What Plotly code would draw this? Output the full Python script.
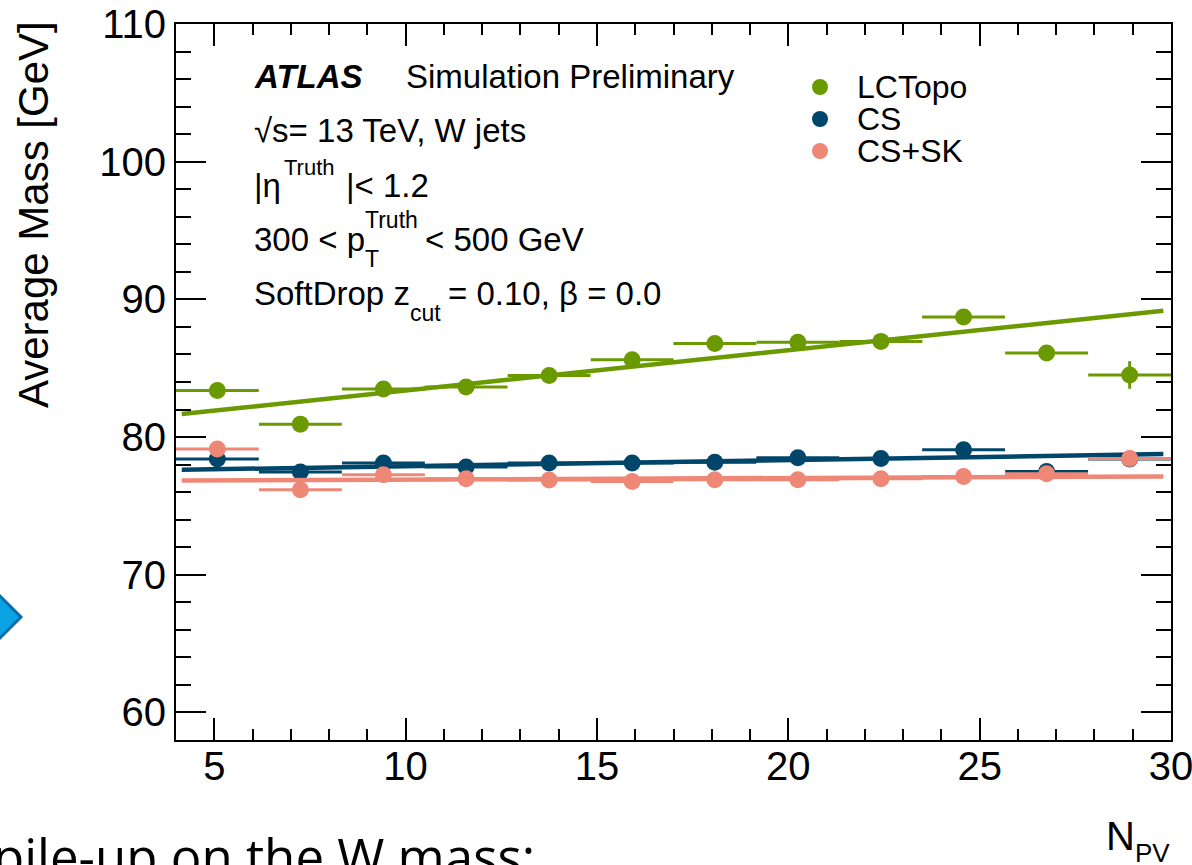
import plotly.graph_objects as go

# ---------------- data ----------------
npv_centers = [5.08, 7.25, 9.42, 11.58, 13.75, 15.92, 18.08, 20.25, 22.42, 24.58, 26.75, 28.92]
npv_halfwidth = [1.083, 1.083, 1.083, 1.083, 1.083, 1.083, 1.083, 1.083, 1.083, 1.083, 1.083, 1.083]

lctopo_mass = [83.39, 80.94, 83.49, 83.63, 84.48, 85.62, 86.80, 86.88, 86.95, 88.72, 86.10, 84.51]
lctopo_err = [0.25, 0.25, 0.2, 0.2, 0.2, 0.2, 0.2, 0.25, 0.25, 0.3, 0.4, 1.0]

cs_mass = [78.40, 77.46, 78.11, 77.82, 78.11, 78.11, 78.18, 78.50, 78.44, 79.08, 77.50, 78.40]
cs_err = [0.2, 0.2, 0.15, 0.15, 0.15, 0.15, 0.15, 0.15, 0.2, 0.2, 0.3, 0.4]

cssk_mass = [79.13, 76.17, 77.26, 76.97, 76.88, 76.77, 76.90, 76.90, 76.97, 77.14, 77.33, 78.44]
cssk_err = [0.2, 0.2, 0.15, 0.15, 0.15, 0.15, 0.15, 0.15, 0.2, 0.2, 0.3, 0.4]

# linear fits: (slope, intercept) and fit range
fit_range = [4.15, 29.8]
lctopo_fit = (0.2928, 80.455)
cs_fit = (0.0444, 77.44)
cssk_fit = (0.0113, 76.80)

series_names = ["LCTopo", "CS", "CS+SK"]
series_colors = ["#6a9a00", "#00466b", "#ef8776"]

x_ticks = [5, 10, 15, 20, 25, 30]
y_ticks = [60, 70, 80, 90, 100, 110]

# ---------------- layout helpers ----------------
W, H = 1192, 865
L, R, T, B = 176, 1171, 24, 740
FONT = "Liberation Sans, Arial, Helvetica, sans-serif"


def PX(x):
    return (x - L) / (R - L)


def PY(y):
    return (B - y) / (B - T)


fig = go.Figure()

datasets = [
    (lctopo_mass, lctopo_err, lctopo_fit),
    (cs_mass, cs_err, cs_fit),
    (cssk_mass, cssk_err, cssk_fit),
]
for (mass, err, fit), name, col in zip(datasets, series_names, series_colors):
    fig.add_trace(go.Scatter(
        x=npv_centers, y=mass, mode="markers", name=name,
        marker=dict(color=col, size=17, line=dict(width=0)),
        error_x=dict(type="data", array=npv_halfwidth, color=col, thickness=3, width=0),
        error_y=dict(type="data", array=err, color=col, thickness=3, width=0),
        showlegend=False, cliponaxis=True,
    ))
    slope, icpt = fit
    fig.add_trace(go.Scatter(
        x=fit_range, y=[icpt + slope * v for v in fit_range], mode="lines",
        line=dict(color=col, width=4.5), showlegend=False, hoverinfo="skip",
    ))

annotations = []


def text(x, baseline, s, size, family=FONT, color="black", anchor="left", angle=0, ascent=0.905, descent=0.212):
    cy = baseline - (ascent - descent) / 2 * size
    annotations.append(dict(
        x=PX(x), y=PY(cy), xref="paper", yref="paper", text=s, showarrow=False,
        xanchor=anchor, yanchor="middle", borderpad=0, textangle=angle,
        font=dict(family=family, size=size, color=color),
    ))


# ATLAS label block
text(253, 88, "<b><i>ATLAS</i></b>", 33)
text(405, 88, "Simulation Preliminary", 33)
text(253, 142, "√s= 13 TeV, W jets", 33)
text(253, 197, "|η", 33)
text(283, 175, "Truth", 22)
text(345, 197, "|< 1.2", 33)
text(253, 251, "300 < p", 33)
text(364, 228, "Truth", 23)
text(364, 267, "T", 23)
text(424, 251, "< 500 GeV", 33)
text(253, 305, "SoftDrop z", 33)
text(409, 321, "cut", 23)
text(447, 305, "= 0.10, β = 0.0", 33)

# legend
legend_rows = [87, 119, 151]
shapes = []
for name, col, yrow in zip(series_names, series_colors, legend_rows):
    shapes.append(dict(
        type="circle", xref="paper", yref="paper",
        xsizemode="pixel", ysizemode="pixel",
        xanchor=PX(820), yanchor=PY(yrow), x0=-8, x1=8, y0=-8, y1=8,
        fillcolor=col, line=dict(width=0),
    ))
    text(856, yrow + 11, name, 32)

# axis titles
annotations.append(dict(
    x=PX(33), y=PY(215), xref="paper", yref="paper", text="Average Mass [GeV]",
    showarrow=False, textangle=-90, xanchor="center", yanchor="middle",
    font=dict(family=FONT, size=42, color="black"),
))
text(1105, 850, "N", 40)
text(1134, 862, "PV", 26)

# slide fragments around the chart
text(-8, 876, "pile-up on the W mass:", 51, family="Open Sans, Noto Sans, sans-serif",
     ascent=1.069, descent=0.293)
shapes.append(dict(
    type="path", xref="paper", yref="paper",
    path=f"M {PX(-14)},{PY(582)} L {PX(21)},{PY(617)} L {PX(-14)},{PY(652)} Z",
    fillcolor="#0aa2e2", line=dict(color="#0b6ea6", width=3),
))

fig.update_layout(
    width=W, height=H,
    margin=dict(l=L, r=W - R, t=T, b=H - B, pad=0, autoexpand=False),
    paper_bgcolor="white", plot_bgcolor="white",
    showlegend=False,
    annotations=annotations, shapes=shapes,
    font=dict(family=FONT, color="black"),
)

fig.update_xaxes(
    range=[4, 30], tickmode="array", tickvals=x_ticks, ticktext=[str(v) for v in x_ticks],
    ticks="inside", ticklen=22, tickwidth=2, tickcolor="black",
    minor=dict(dtick=1, tick0=0, ticks="inside", ticklen=11, tickwidth=2, tickcolor="black"),
    showline=True, linecolor="black", linewidth=2, mirror="allticks",
    showgrid=False, zeroline=False, automargin=False,
    ticklabeloverflow="allow", ticklabelstandoff=-10,
    tickfont=dict(family=FONT, size=40, color="black"),
)
fig.update_yaxes(
    range=[58, 110], tickmode="array", tickvals=y_ticks, ticktext=[str(v) for v in y_ticks],
    ticks="inside", ticklen=30, tickwidth=2, tickcolor="black",
    minor=dict(dtick=2, tick0=0, ticks="inside", ticklen=15, tickwidth=2, tickcolor="black"),
    showline=True, linecolor="black", linewidth=2, mirror="allticks",
    showgrid=False, zeroline=False, automargin=False,
    ticklabeloverflow="allow",
    tickfont=dict(family=FONT, size=40, color="black"),
)

fig.write_html("out.html")
